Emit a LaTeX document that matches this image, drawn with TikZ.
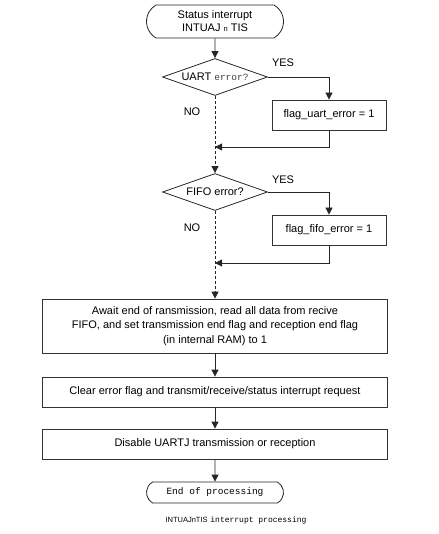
\documentclass[tikz,border=0pt]{standalone}
\usepackage{fontspec}
\setmainfont{Liberation Sans}
\setmonofont{Liberation Mono}
\usetikzlibrary{shapes.geometric,shapes.misc,arrows.meta}

\tikzset{
  flowline/.style={draw=black!85, line width=0.8pt},
  arrowline/.style={flowline, -{Triangle[length=7pt,width=7pt]}},
  dashline/.style={arrowline, dash pattern=on 3pt off 2pt},
  procbox/.style={draw=black!80, line width=0.8pt, rectangle, inner sep=0pt,
    minimum width=345pt, minimum height=30pt, align=center,
    font=\fontsize{11}{14.5}\selectfont},
  flagbox/.style={procbox, minimum width=114pt},
  decision/.style={draw=black!85, line width=0.8pt, diamond, inner sep=0pt,
    aspect=2.8, minimum width=105pt, minimum height=37pt,
    font=\fontsize{11}{12}\selectfont},
  terminal/.style={draw=black!85, line width=0.8pt, rounded rectangle,
    rounded rectangle arc length=120, inner sep=0pt, minimum width=137pt,
    align=center},
  answer/.style={font=\fontsize{11}{12}\selectfont}
}

\begin{document}
\begin{tikzpicture}[x=1pt,y=-1pt]

% -------------------------------------------------
% Frame
% -------------------------------------------------
\useasboundingbox (0,0) rectangle (438,534);

% -------------------------------------------------
% Start and decisions
% -------------------------------------------------
\node[terminal, minimum height=33pt, font=\fontsize{11}{13}\selectfont]
  (start) at (215,21.5) {Status interrupt\\INTUAJ {\fontsize{7.5}{8}\selectfont n} TIS};

\node[decision] (uart) at (215,77)
  {UART {\ttfamily\fontsize{9.5}{10}\selectfont\color{black!75}error?}};
\node[flagbox] (flaguart) at (329,115) {flag\_uart\_error = 1};
\coordinate (joinuart) at (215,147);

\node[decision] (fifo) at (215,192) {FIFO error?};
\node[flagbox] (flagfifo) at (329,230) {flag\_fifo\_error = 1};
\coordinate (joinfifo) at (215,263);

% -------------------------------------------------
% Labels
% -------------------------------------------------
\node[answer] (yesuart) at (283,63) {YES};
\node[answer] (nouart) at (192,112) {NO};
\node[answer] (yesfifo) at (283,180) {YES};
\node[answer] (nofifo) at (192,228) {NO};

% -------------------------------------------------
% Processing boxes
% -------------------------------------------------
\node[procbox, minimum height=54pt] (await) at (215,326)
  {Await end of ransmission, read all data from recive\\
   FIFO, and set transmission end flag and reception end flag\\
   (in internal RAM) to 1};
\node[procbox] (clear) at (215,392)
  {Clear error flag and transmit/receive/status interrupt request};
\node[procbox] (disable) at (215,444)
  {Disable UARTJ transmission or reception};

\node[terminal, minimum height=21pt, font=\ttfamily\fontsize{9.5}{10}\selectfont]
  (finish) at (215,492.5) {End of processing};

\node (caption) at (236,520)
  {{\fontsize{7.5}{8}\selectfont INTUAJnTIS} {\ttfamily\fontsize{8}{9}\selectfont interrupt processing}};

% -------------------------------------------------
% Connectors
% -------------------------------------------------
\draw[arrowline] (start) -- (uart);
\draw[arrowline] (uart.east) -| (flaguart.north);
\draw[arrowline] (flaguart.south) |- (joinuart);
\draw[dashline] (uart.south) -- (fifo.north);

\draw[arrowline] (fifo.east) -| (flagfifo.north);
\draw[arrowline] (flagfifo.south) |- (joinfifo);
\draw[dashline] (fifo.south) -- (await.north);

\foreach \from/\to in {await/clear, clear/disable, disable/finish}
  \draw[arrowline] (\from) -- (\to);

\end{tikzpicture}
\end{document}
